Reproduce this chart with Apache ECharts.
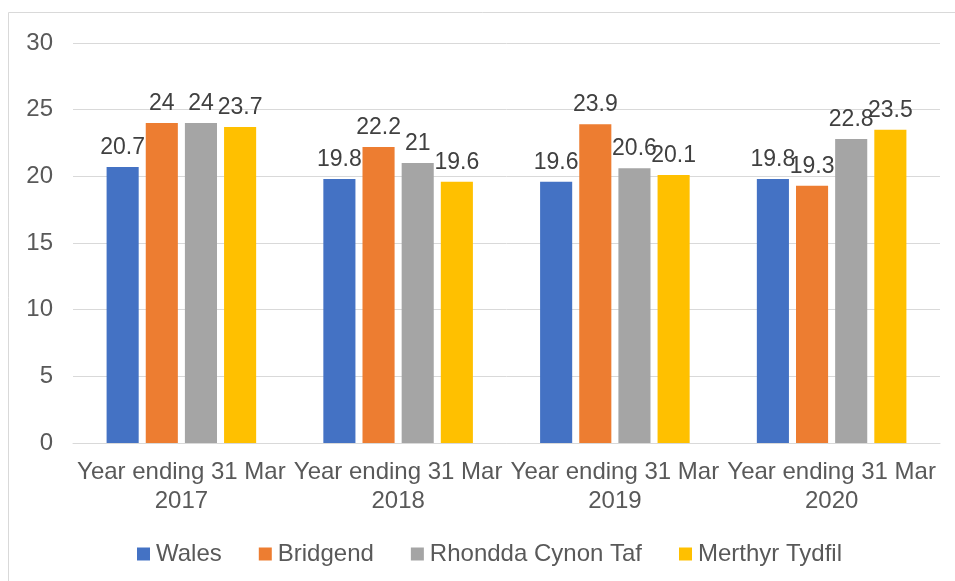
<!DOCTYPE html>
<html>
<head>
<meta charset="utf-8">
<script src="https://cdn.jsdelivr.net/npm/echarts@6/dist/echarts.min.js"></script>
<style>
  html, body { margin: 0; padding: 0; background: #fff; }
  #chart { width: 955px; height: 581px; }
</style>
</head>
<body>
<div id="chart"></div>
<script>
// Categories and values per area
const categories = [
  'Year ending 31 Mar\n2017',
  'Year ending 31 Mar\n2018',
  'Year ending 31 Mar\n2019',
  'Year ending 31 Mar\n2020'
];
const seriesNames = ['Wales', 'Bridgend', 'Rhondda Cynon Taf', 'Merthyr Tydfil'];
const wales = [20.7, 19.8, 19.6, 19.8];
const bridgend = [24, 22.2, 23.9, 19.3];
const rhondda = [24, 21, 20.6, 22.8];
const merthyr = [23.7, 19.6, 20.1, 23.5];
const yTicks = { min: 0, max: 30, interval: 5 };

const colors = ['#4472C4', '#ED7D31', '#A5A5A5', '#FFC000'];
const values = [wales, bridgend, rhondda, merthyr];

const chart = echarts.init(document.getElementById('chart'), null, { renderer: 'canvas' });

chart.setOption({
  animation: false,
  textStyle: { fontFamily: 'Liberation Sans, Arial, sans-serif' },
  graphic: [{
    type: 'rect',
    shape: { x: 8.5, y: 12.5, width: 960, height: 600 },
    style: { fill: 'none', stroke: '#D9D9D9', lineWidth: 1 },
    silent: true
  }],
  grid: { left: 73, right: 15, top: 43, bottom: 138, containLabel: false },
  legend: {
    top: 537,
    left: 132,
    itemWidth: 13,
    itemHeight: 13,
    itemGap: 37,
    icon: 'rect',
    textStyle: { fontSize: 24, color: '#595959', padding: [0, 0, 0, 1] },
    data: seriesNames
  },
  xAxis: {
    type: 'category',
    data: categories,
    axisLine: { show: true, lineStyle: { color: '#D9D9D9' } },
    axisTick: { show: false },
    axisLabel: { fontSize: 24, color: '#595959', lineHeight: 29, margin: 15, interval: 0 }
  },
  yAxis: {
    type: 'value',
    min: yTicks.min,
    max: yTicks.max,
    interval: yTicks.interval,
    axisLine: { show: false },
    axisTick: { show: false },
    splitLine: { lineStyle: { color: '#D9D9D9', width: 1 } },
    axisLabel: { fontSize: 24, color: '#595959', margin: 20 }
  },
  series: seriesNames.map((name, i) => ({
    name,
    type: 'bar',
    data: values[i],
    barGap: '22%',
    barCategoryGap: '31%',
    itemStyle: { color: colors[i] },
    label: {
      show: true,
      position: 'top',
      distance: 8,
      fontSize: 23,
      color: '#404040'
    }
  }))
});
</script>
</body>
</html>
